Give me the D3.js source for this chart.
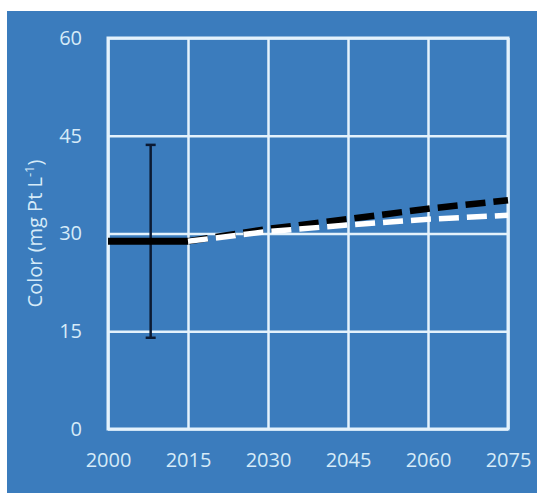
<!DOCTYPE html>
<html>
<head>
<meta charset="utf-8">
<script src="https://cdn.jsdelivr.net/npm/d3@7"></script>
<style>
  body { margin: 0; background: #ffffff; }
  svg { display: block; }
  .axis text { fill: #d6ebf8; font-family: "Open Sans", sans-serif; font-size: 20px; }
  .axis path { display: none; }
  .axis line { stroke: #e4f2fc; stroke-width: 2.5; }
</style>
</head>
<body>
<div id="chart"></div>
<script>
// data
var xTicks = [2000, 2015, 2030, 2045, 2060, 2075];
var yTicks = [0, 15, 30, 45, 60];
var baseYears = [2000, 2015];
var baseValues = [28.8, 28.8];
var projYears = [2015, 2030, 2045, 2060, 2075];
var projBlack = [28.8, 30.7, 32.2, 33.8, 35.1];
var projWhite = [28.8, 30.3, 31.3, 32.2, 32.8];
var errYear = [2008];
var errLow = [14.0];
var errHigh = [43.6];

var W = 537, H = 493;
var margin = {top: 38, left: 108, right: 29, bottom: 64};
var width = W - margin.left - margin.right;
var height = H - margin.top - margin.bottom;

var svg = d3.select("#chart").append("svg")
    .attr("width", W)
    .attr("height", H);

// blue panel
svg.append("rect")
    .attr("x", 7).attr("y", 11)
    .attr("width", W - 7).attr("height", H - 11)
    .attr("fill", "#3b7cbd");

var g = svg.append("g")
    .attr("transform", "translate(" + margin.left + "," + margin.top + ")");

var x = d3.scaleLinear().domain([2000, 2075]).range([0, width]);
var y = d3.scaleLinear().domain([0, 60]).range([height, 0]);

// grid via axes
g.append("g")
    .attr("class", "x-axis axis")
    .attr("transform", "translate(0," + height + ")")
    .call(d3.axisBottom(x).tickValues(xTicks).tickFormat(d3.format("d"))
        .tickSize(-height).tickPadding(24));

g.append("g")
    .attr("class", "y-axis axis")
    .call(d3.axisLeft(y).tickValues(yTicks).tickSize(-width).tickPadding(26));

// frame
g.append("rect")
    .attr("width", width).attr("height", height)
    .attr("fill", "none")
    .attr("stroke", "#e4f2fc")
    .attr("stroke-width", 3);

// axis title
svg.append("text")
    .attr("transform", "translate(42," + (margin.top + height / 2) + ") rotate(-90)")
    .attr("text-anchor", "middle")
    .attr("fill", "#d6ebf8")
    .style("font-family", "'Open Sans', sans-serif")
    .style("font-size", "20px")
    .html("Color (mg Pt L<tspan dy='-8' font-size='13'>-1</tspan><tspan dy='8'>)</tspan>");

var line = d3.line()
    .x(function(d) { return x(d[0]); })
    .y(function(d) { return y(d[1]); });

// error bar
var errG = g.append("g").attr("stroke", "#0b1a33").attr("stroke-width", 2.5);
errYear.forEach(function(yr, i) {
    errG.append("line")
        .attr("x1", x(yr)).attr("x2", x(yr))
        .attr("y1", y(errLow[i])).attr("y2", y(errHigh[i]));
    [errLow[i], errHigh[i]].forEach(function(v) {
        errG.append("line")
            .attr("x1", x(yr) - 5).attr("x2", x(yr) + 5)
            .attr("y1", y(v)).attr("y2", y(v));
    });
});

// baseline
g.append("path")
    .datum(d3.zip(baseYears, baseValues))
    .attr("d", line)
    .attr("fill", "none")
    .attr("stroke", "#000000")
    .attr("stroke-width", 7);

// projections
g.append("path")
    .datum(d3.zip(projYears, projBlack))
    .attr("d", line)
    .attr("fill", "none")
    .attr("stroke", "#000000")
    .attr("stroke-width", 6.5)
    .attr("stroke-dasharray", "20,8");

g.append("path")
    .datum(d3.zip(projYears, projWhite))
    .attr("d", line)
    .attr("fill", "none")
    .attr("stroke", "#ffffff")
    .attr("stroke-width", 5.5)
    .attr("stroke-dasharray", "20,8");
</script>
</body>
</html>
